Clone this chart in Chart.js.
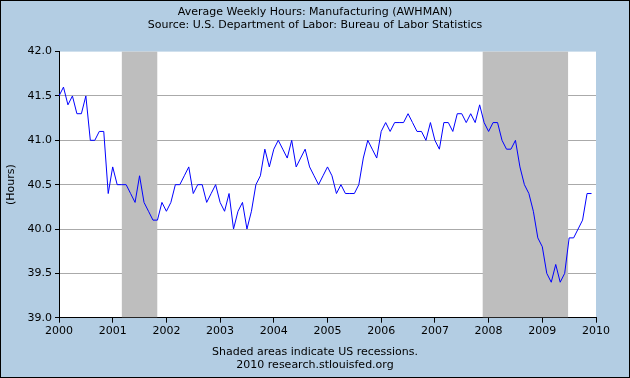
<!DOCTYPE html>
<html>
<head>
<meta charset="utf-8">
<script src="https://cdn.jsdelivr.net/npm/chart.js@4.4.1/dist/chart.umd.min.js"></script>
<style>
  html, body { margin: 0; padding: 0; background: #fff; }
  canvas { display: block; }
</style>
</head>
<body>
<canvas id="chart" width="630" height="378"></canvas>
<script>
// monthly values, Jan 2000 .. Dec 2009
const startYear = 2000;
const hours = [
  41.5, 41.6, 41.4, 41.5, 41.3, 41.3, 41.5, 41.0, 41.0, 41.1, 41.1, 40.4,
  40.7, 40.5, 40.5, 40.5, 40.4, 40.3, 40.6, 40.3, 40.2, 40.1, 40.1, 40.3,
  40.2, 40.3, 40.5, 40.5, 40.6, 40.7, 40.4, 40.5, 40.5, 40.3, 40.4, 40.5,
  40.3, 40.2, 40.4, 40.0, 40.2, 40.3, 40.0, 40.2, 40.5, 40.6, 40.9, 40.7,
  40.9, 41.0, 40.9, 40.8, 41.0, 40.7, 40.8, 40.9, 40.7, 40.6, 40.5, 40.6,
  40.7, 40.6, 40.4, 40.5, 40.4, 40.4, 40.4, 40.5, 40.8, 41.0, 40.9, 40.8,
  41.1, 41.2, 41.1, 41.2, 41.2, 41.2, 41.3, 41.2, 41.1, 41.1, 41.0, 41.2,
  41.0, 40.9, 41.2, 41.2, 41.1, 41.3, 41.3, 41.2, 41.3, 41.2, 41.4, 41.2,
  41.1, 41.2, 41.2, 41.0, 40.9, 40.9, 41.0, 40.7, 40.5, 40.4, 40.2, 39.9,
  39.8, 39.5, 39.4, 39.6, 39.4, 39.5, 39.9, 39.9, 40.0, 40.1, 40.4, 40.4,
];
const recessionStarts = [2001.17, 2007.89];
const recessionEnds = [2001.83, 2009.48];

const titleLines = [
  'Average Weekly Hours: Manufacturing (AWHMAN)',
  'Source: U.S. Department of Labor: Bureau of Labor Statistics',
];
const footerLines = [
  'Shaded areas indicate US recessions.',
  '2010 research.stlouisfed.org',
];

const points = hours.map((v, i) => ({ x: startYear + i / 12, y: v }));
const tickFont = { family: 'DejaVu Sans', size: 11 };

// blue frame, white plot area, recession bars and outer border
const backdrop = {
  id: 'backdrop',
  beforeDraw(chart) {
    const { ctx, chartArea: a } = chart;
    ctx.save();
    ctx.fillStyle = '#b3cde3';
    ctx.fillRect(0, 0, chart.width, chart.height);
    ctx.fillStyle = '#ffffff';
    ctx.fillRect(a.left, a.top, a.right - a.left, a.bottom - a.top);
    ctx.restore();
  },
  beforeDatasetsDraw(chart) {
    const { ctx, chartArea: a, scales } = chart;
    ctx.save();
    ctx.fillStyle = '#bebebe';
    recessionStarts.forEach((s, i) => {
      const x0 = scales.x.getPixelForValue(s);
      const x1 = scales.x.getPixelForValue(recessionEnds[i]);
      ctx.fillRect(x0, a.top, x1 - x0, a.bottom - a.top - 0.5);
    });
    ctx.restore();
  },
  afterDraw(chart) {
    const ctx = chart.ctx;
    ctx.save();
    ctx.strokeStyle = '#000';
    ctx.lineWidth = 1;
    ctx.strokeRect(0.5, 0.5, chart.width - 1, chart.height - 1);
    ctx.restore();
  },
};

new Chart(document.getElementById('chart'), {
  type: 'line',
  data: {
    datasets: [{
      data: points,
      borderColor: '#0000ff',
      borderWidth: 1,
      pointRadius: 0,
      tension: 0,
      fill: false,
    }],
  },
  options: {
    responsive: false,
    animation: false,
    layout: { padding: 0 },
    plugins: {
      legend: { display: false },
      tooltip: { enabled: false },
      title: {
        display: true,
        text: titleLines,
        color: '#000',
        font: { family: 'DejaVu Sans', size: 11, weight: 'normal', lineHeight: 1.21 },
        padding: { top: 5, bottom: 20 },
      },
      subtitle: {
        display: true,
        position: 'bottom',
        text: footerLines,
        color: '#000',
        font: { family: 'DejaVu Sans', size: 11, lineHeight: 1.15 },
        padding: { top: 6, bottom: 7 },
      },
    },
    scales: {
      x: {
        type: 'linear',
        min: 2000,
        max: 2010,
        afterFit: (s) => { s.height = 22; },
        ticks: {
          stepSize: 1,
          autoSkip: false,
          maxRotation: 0,
          padding: 2,
          color: '#000',
          font: tickFont,
          callback: (v) => String(v),
        },
        grid: { drawOnChartArea: false, tickLength: 5, color: '#000' },
        border: { color: '#000' },
      },
      y: {
        min: 39,
        max: 42,
        afterFit: (s) => { s.width = 59; },
        ticks: {
          stepSize: 0.5,
          padding: 3,
          color: '#000',
          font: tickFont,
          callback: (v) => v.toFixed(1),
        },
        grid: {
          color: (c) => (c.tick && (c.tick.value === 42 || c.tick.value === 39) ? 'rgba(0,0,0,0)' : '#aaaaaa'),
          tickColor: '#000',
          tickLength: 4,
        },
        border: { color: '#000' },
        title: {
          display: true,
          text: '(Hours)',
          color: '#000',
          font: tickFont,
          padding: { top: 5, bottom: 0 },
        },
      },
      // empty right margin so the titles stay centred on the canvas
      yRight: {
        position: 'right',
        afterFit: (s) => { s.width = 34; },
        ticks: { display: false },
        grid: { display: false },
        border: { display: false },
      },
    },
  },
  plugins: [backdrop],
});
</script>
</body>
</html>
